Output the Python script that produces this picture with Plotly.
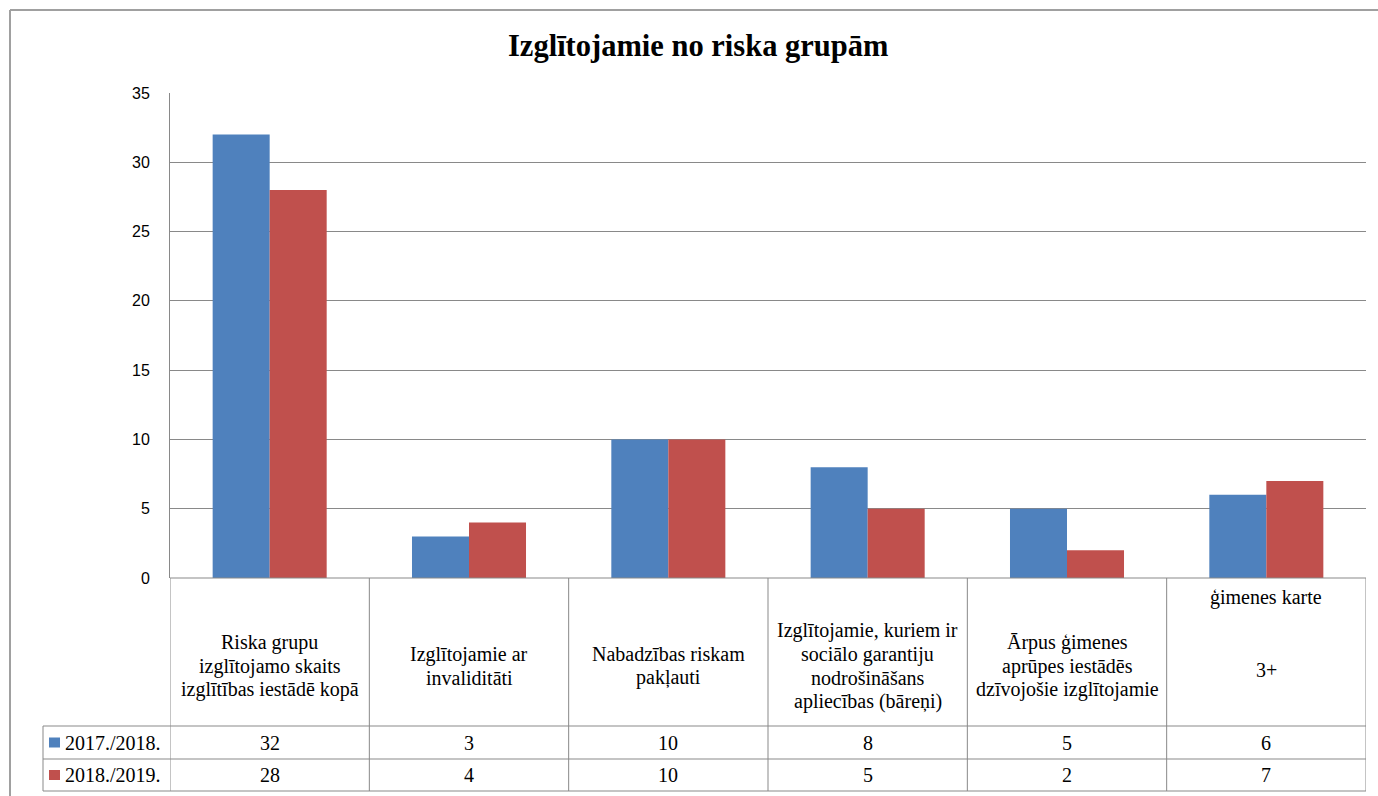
import plotly.graph_objects as go

W, H = 1378, 796

categories = [
    "Riska grupu<br>izglītojamo skaits<br>izglītības iestādē kopā",
    "Izglītojamie ar<br>invaliditāti",
    "Nabadzības riskam<br>pakļauti",
    "Izglītojamie, kuriem ir<br>sociālo garantiju<br>nodrošināšans<br>apliecības (bāreņi)",
    "Ārpus ģimenes<br>aprūpes iestādēs<br>dzīvojošie izglītojamie",
    "3+ ģimenes karte",
]
series_names = ["2017./2018.", "2018./2019."]
values_2017 = [32, 3, 10, 8, 5, 6]
values_2018 = [28, 4, 10, 5, 2, 7]
colors = ["#4F81BD", "#C0504D"]
y_ticks = [0, 5, 10, 15, 20, 25, 30, 35]

# layout geometry (window pixels)
PL, PR = 170, 1366
PT, PB = 93, 578
ROW1, ROW2, ROWEND = 726, 759, 791
LEG_L = 43
LABEL_CY, LINE_H = 666, 23.5

def xp(px):
    return px / W

def yp(py):
    return 1 - py / H

idx = list(range(len(categories)))
fig = go.Figure()
for name, vals, c in zip(series_names, [values_2017, values_2018], colors):
    fig.add_trace(go.Bar(x=idx, y=vals, name=name, marker=dict(color=c, line=dict(width=0)),
                         showlegend=False, hoverinfo="y"))

grid = "#898989"
fig.update_layout(
    width=W, height=H,
    margin=dict(l=0, r=0, t=0, b=0, autoexpand=False),
    paper_bgcolor="white", plot_bgcolor="white",
    barmode="group", bargap=0.428, bargroupgap=0,
    xaxis=dict(domain=[xp(PL), xp(PR)], range=[-0.5, len(categories) - 0.5], automargin=False,
               showticklabels=False, showgrid=False, zeroline=False, showline=False, ticks=""),
    yaxis=dict(domain=[yp(PB), yp(PT)], range=[0, 35], tickvals=y_ticks, automargin=False,
               showgrid=True, gridcolor=grid, gridwidth=1, zeroline=False,
               showline=True, linecolor=grid, linewidth=1, ticks="", ticklen=0,
               tickfont=dict(family="Liberation Sans, Arial", size=16, color="black"),
               ticklabelstandoff=16),
)

shapes = []
line = dict(color=grid, width=1)
# outer frame
shapes.append(dict(type="line", xref="paper", yref="paper", x0=xp(10), x1=1.01, y0=yp(10), y1=yp(10),
                   line=dict(color="#A0A0A0", width=2)))
shapes.append(dict(type="line", xref="paper", yref="paper", x0=xp(10), x1=xp(10), y0=yp(10), y1=-0.05,
                   line=dict(color="#A0A0A0", width=2)))
# table vertical lines
for i in range(len(categories) + 1):
    shapes.append(dict(type="line", xref="x", yref="paper", x0=i - 0.5, x1=i - 0.5,
                       y0=yp(PB), y1=yp(ROWEND), line=line))
shapes.append(dict(type="line", xref="paper", yref="paper", x0=xp(LEG_L), x1=xp(LEG_L),
                   y0=yp(ROW1), y1=yp(ROWEND), line=line))
# table horizontal lines
shapes.append(dict(type="line", xref="paper", yref="paper", x0=xp(PL), x1=xp(PR),
                   y0=yp(PB), y1=yp(PB), line=line))
for r in [ROW1, ROW2, ROWEND]:
    shapes.append(dict(type="line", xref="paper", yref="paper", x0=xp(LEG_L), x1=xp(PR),
                       y0=yp(r), y1=yp(r), line=line))
# legend keys
for k, (r0, r1) in enumerate([(ROW1, ROW2), (ROW2, ROWEND)]):
    cy = (r0 + r1) / 2
    shapes.append(dict(type="rect", xref="paper", yref="paper", x0=xp(49), x1=xp(60),
                       y0=yp(cy - 5), y1=yp(cy + 5), fillcolor=colors[k], line=dict(width=0)))

annotations = []
serif = "Liberation Serif, Times New Roman, serif"
tfont = dict(family=serif, size=20, color="black")
annotations.append(dict(text="<b>Izglītojamie no riska grupām</b>", xref="paper", yref="paper",
                        x=xp(698), y=yp(46), showarrow=False, xanchor="center", yanchor="middle",
                        font=dict(family=serif, size=30.5, color="black")))

def label(text, i, y):
    annotations.append(dict(text=text, xref="x", yref="paper", x=i, y=yp(y),
                            showarrow=False, xanchor="center", yanchor="middle", font=tfont))

for i, cat in enumerate(categories):
    if cat.startswith("3+ "):
        label(cat[3:], i, 597)
        label(cat[:2], i, 670)
    else:
        lines = cat.split("<br>")
        n = len(lines)
        for j, t in enumerate(lines):
            label(t, i, LABEL_CY + (j - (n - 1) / 2) * LINE_H)

for k, (vals, (r0, r1)) in enumerate(zip([values_2017, values_2018], [(ROW1, ROW2), (ROW2, ROWEND)])):
    cy = (r0 + r1) / 2
    annotations.append(dict(text=series_names[k], xref="paper", yref="paper", x=xp(63), y=yp(cy),
                            showarrow=False, xanchor="left", yanchor="middle", font=tfont))
    for i, v in enumerate(vals):
        label(str(v), i, cy)

fig.update_layout(shapes=shapes, annotations=annotations)
fig.write_html(
    "out.html",
    config={"displayModeBar": False},
    post_script="document.body.style.margin='0px';document.body.style.overflow='hidden';",
)
